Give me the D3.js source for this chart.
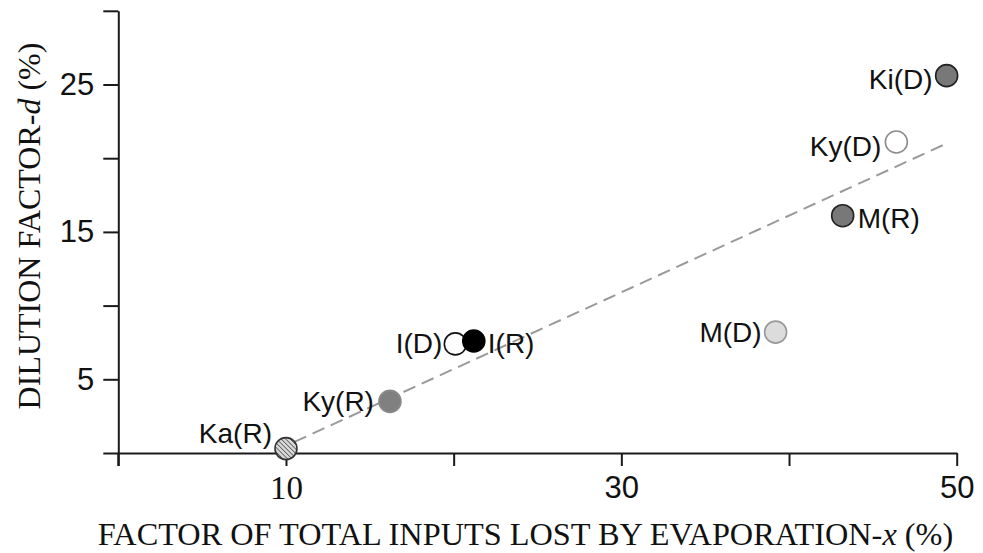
<!DOCTYPE html>
<html>
<head>
<meta charset="utf-8">
<script src="https://cdn.jsdelivr.net/npm/d3@7"></script>
<style>
  html, body { margin: 0; padding: 0; background: #fff; }
  svg { display: block; }
</style>
</head>
<body>
<svg id="chart" width="983" height="553"></svg>
<script>
// Sites: lake / catchment codes, (R) = rainy, (D) = dry season
const siteLabels = ["Ka(R)", "Ky(R)", "I(D)", "I(R)", "M(D)", "M(R)", "Ky(D)", "Ki(D)"];
// Fraction of total inputs lost by evaporation, x (%)
const evapLoss = [10.0, 16.2, 20.1, 21.2, 39.2, 43.2, 46.4, 49.4];
// Dilution factor, d (%)
const dilution = [0.3, 3.5, 7.4, 7.6, 8.2, 16.1, 21.1, 25.6];

// Fitted trend (dashed), end points
const trendX = [10.5, 49.4];
const trendY = [0.75, 21.0];

// Axis ticks
const xTicks = [0, 10, 20, 30, 40, 50];
const xTickLabels = ["", "10", "", "30", "", "50"];
const yTicks = [0, 5, 10, 15, 20, 25, 30];
const yTickLabels = ["", "5", "", "15", "", "25", ""];

// Marker look per site
const markerStyle = {
  "Ka(R)": { fill: "url(#hatch)", stroke: "#333" },
  "Ky(R)": { fill: "#808080", stroke: "#8a8a8a" },
  "I(D)":  { fill: "#ffffff", stroke: "#111" },
  "I(R)":  { fill: "#000000", stroke: "#000" },
  "M(D)":  { fill: "#dcdcdc", stroke: "#9a9a9a" },
  "M(R)":  { fill: "#787878", stroke: "#222" },
  "Ky(D)": { fill: "#ffffff", stroke: "#8c8c8c" },
  "Ki(D)": { fill: "#787878", stroke: "#222" }
};
// Label placement relative to each marker
const labelPlace = {
  "Ka(R)": { anchor: "end",   dx: -14, dy: -6 },
  "Ky(R)": { anchor: "end",   dx: -16, dy: 10 },
  "I(D)":  { anchor: "end",   dx: -13, dy: 9 },
  "I(R)":  { anchor: "start", dx: 14,  dy: 12 },
  "M(D)":  { anchor: "end",   dx: -14, dy: 10 },
  "M(R)":  { anchor: "start", dx: 15,  dy: 12 },
  "Ky(D)": { anchor: "end",   dx: -15, dy: 14 },
  "Ki(D)": { anchor: "end",   dx: -14, dy: 13 }
};

const svg = d3.select("#chart");
const sans = "'Liberation Sans', Arial, sans-serif";
const serif = "'Liberation Serif', 'Times New Roman', serif";

const x = d3.scaleLinear().domain([0, 50]).range([118.3, 956.7]);
const y = d3.scaleLinear().domain([0, 30]).range([453, 10.8]);

// hatch fill
const defs = svg.append("defs");
const pat = defs.append("pattern")
  .attr("id", "hatch")
  .attr("patternUnits", "userSpaceOnUse")
  .attr("width", 3.2).attr("height", 3.2)
  .attr("patternTransform", "rotate(-45)");
pat.append("rect").attr("width", 3.2).attr("height", 3.2).attr("fill", "#d8d8d8");
pat.append("line").attr("x1", 0).attr("y1", 0).attr("x2", 0).attr("y2", 3.2)
  .attr("stroke", "#444").attr("stroke-width", 1.4);

// x axis
const xAxis = svg.append("g")
  .attr("transform", `translate(0,${y(0)})`)
  .call(d3.axisBottom(x).tickValues(xTicks)
    .tickFormat((d, i) => xTickLabels[i])
    .tickSize(13).tickSizeOuter(0).tickPadding(10));
xAxis.select(".domain").attr("stroke", "#1a1a1a").attr("stroke-width", 2);
xAxis.selectAll(".tick line").attr("stroke", "#1a1a1a").attr("stroke-width", 2);
xAxis.selectAll(".tick text")
  .attr("fill", "#111")
  .style("font-family", (d, i) => xTickLabels[i] === "10" ? serif : sans)
  .style("font-size", (d, i) => xTickLabels[i] === "10" ? "33px" : "31px");

// y axis
const yAxis = svg.append("g")
  .attr("transform", `translate(${x(0)},0)`)
  .call(d3.axisLeft(y).tickValues(yTicks)
    .tickFormat((d, i) => yTickLabels[i])
    .tickSize(15).tickSizeOuter(0).tickPadding(9));
yAxis.select(".domain").attr("stroke", "#1a1a1a").attr("stroke-width", 2);
yAxis.selectAll(".tick line").attr("stroke", "#1a1a1a").attr("stroke-width", 2);
yAxis.selectAll(".tick text")
  .attr("fill", "#111")
  .style("font-family", sans)
  .style("font-size", "31px");
// y axis extends below the x axis (tick at x = 0)
svg.append("line")
  .attr("x1", x(0)).attr("x2", x(0))
  .attr("y1", y(0)).attr("y2", y(0) + 13)
  .attr("stroke", "#1a1a1a").attr("stroke-width", 2);

// trend line
svg.append("path")
  .datum(trendX.map((v, i) => [v, trendY[i]]))
  .attr("d", d3.line().x(d => x(d[0])).y(d => y(d[1])))
  .attr("fill", "none")
  .attr("stroke", "#9a9a9a")
  .attr("stroke-width", 2)
  .attr("stroke-dasharray", "13,7");

const pts = siteLabels.map((s, i) => ({ site: s, xv: evapLoss[i], yv: dilution[i] }));

// markers
svg.append("g").selectAll("circle")
  .data(pts).join("circle")
  .attr("cx", d => x(d.xv))
  .attr("cy", d => y(d.yv))
  .attr("r", 11)
  .attr("fill", d => markerStyle[d.site].fill)
  .attr("stroke", d => markerStyle[d.site].stroke)
  .attr("stroke-width", 1.6);

// site labels
svg.append("g").selectAll("text")
  .data(pts).join("text")
  .attr("x", d => x(d.xv) + labelPlace[d.site].dx)
  .attr("y", d => y(d.yv) + labelPlace[d.site].dy)
  .attr("text-anchor", d => labelPlace[d.site].anchor)
  .style("font-family", sans)
  .style("font-size", "28px")
  .attr("fill", "#111")
  .text(d => d.site);

// axis titles
const xTitle = svg.append("text")
  .attr("x", (101 + 950) / 2)
  .attr("y", 545)
  .attr("text-anchor", "middle")
  .style("font-family", serif)
  .style("font-size", "32.3px")
  .attr("fill", "#111");
xTitle.append("tspan").text("FACTOR OF TOTAL INPUTS LOST BY EVAPORATION-");
xTitle.append("tspan").style("font-style", "italic").text("x");
xTitle.append("tspan").text(" (%)");

const yTitle = svg.append("text")
  .attr("transform", "translate(40,226) rotate(-90)")
  .attr("text-anchor", "middle")
  .style("font-family", serif)
  .style("font-size", "32px")
  .attr("fill", "#111");
yTitle.append("tspan").text("DILUTION FACTOR-");
yTitle.append("tspan").style("font-style", "italic").text("d");
yTitle.append("tspan").text(" (%)");
</script>
</body>
</html>
